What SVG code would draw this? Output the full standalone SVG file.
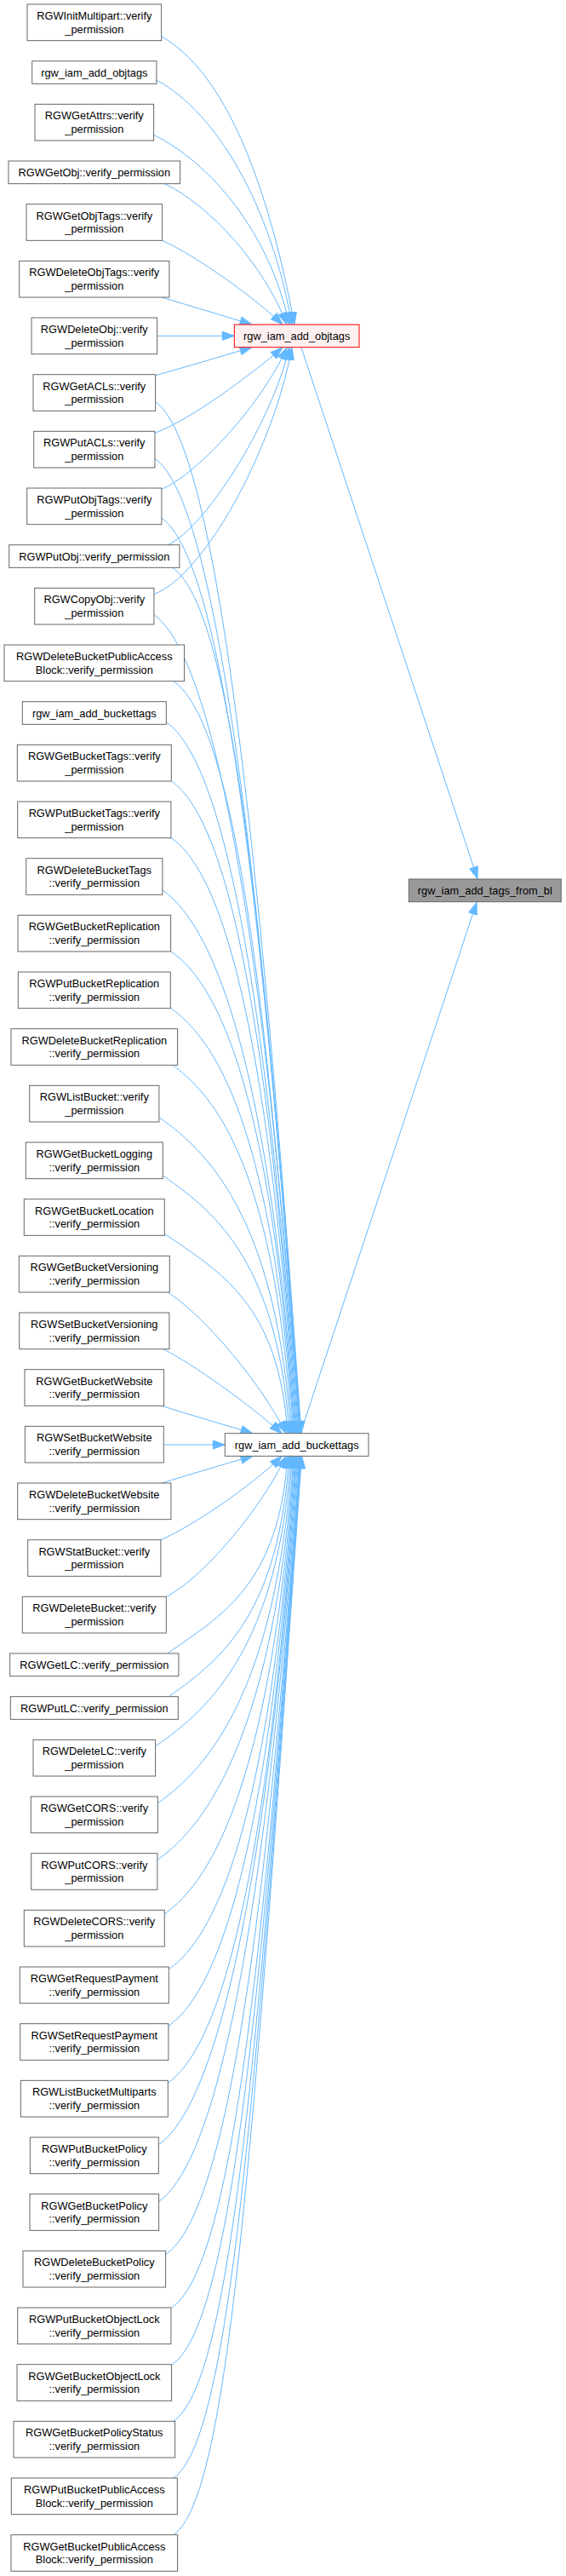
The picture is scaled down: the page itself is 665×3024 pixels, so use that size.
<svg xmlns="http://www.w3.org/2000/svg" width="665" height="3024" viewBox="0 0 665 3024">
<style>
.n rect{fill:#ffffff;stroke:#666666;stroke-width:1}
.cur rect{fill:#fff0f0;stroke:#ff0000}
.root rect{fill:#999999;stroke:#666666}
text{font-family:"Liberation Sans",Arial,sans-serif;font-size:12.8px;text-anchor:middle;fill:#000}
.e path{fill:none;stroke:#63b8ff;stroke-width:1;marker-end:url(#arr)}
</style>
<defs>
<marker id="arr" markerUnits="userSpaceOnUse" markerWidth="16" markerHeight="12" refX="14" refY="5" orient="auto" overflow="visible">
<path d="M0,0 L14,5 L0,10 z" fill="#63b8ff" stroke="#63b8ff" stroke-width="1"/>
</marker>
</defs>
<rect width="665" height="3024" fill="#ffffff"/>
<g class="e" id="edges">
<path d="M189.6,42.7 C264,85 314,212 346,381"/>
<path d="M183.9,94 C254.3,132 318,240 343,381"/>
<path d="M180.6,158.3 C245,190 316,270 340,381"/>
<path d="M193.3,215.7 C245,240 310,310 337,381"/>
<path d="M190.7,282.3 C230,300 300,350 332,381"/>
<path d="M190,349 C220,358 260,370 296,381"/>
<path d="M184.6,394.3 L275.3,394.3"/>
<path d="M182.6,440.7 C215,432 260,418 296,407.7"/>
<path d="M181.9,508.3 C222,494 295,440 332,408"/>
<path d="M189.9,574.3 C235,555 310,470 337,408"/>
<path d="M197.3,639.7 C240,620 318,500 340,408"/>
<path d="M180.9,697.7 C240,675 320,530 343,408"/>
<path d="M182.6,471.7 C247.7,516.7 298.9,895.6 354,1682.7"/>
<path d="M181.9,538.3 C247.3,583.3 301.4,938.8 353.5,1682.7"/>
<path d="M189.9,608.3 C255,653.3 304.1,984.3 353,1682.7"/>
<path d="M202.7,666.3 C267.7,712.3 306.3,1022.7 352.5,1682.7"/>
<path d="M180.9,721.7 C246,766.7 308.3,1058.1 352,1682.7"/>
<path d="M204,799.7 C269,846 310.9,1109.6 351,1682.7"/>
<path d="M195.3,847.7 C260.3,892.7 312,1140 350,1682.7"/>
<path d="M201.3,917 C266.3,961.7 314.1,1184.8 349,1682.7"/>
<path d="M200.9,983.3 C266,1028.3 316.2,1228.1 348,1682.7"/>
<path d="M190.9,1045 C256,1090 318,1268.2 347,1682.7"/>
<path d="M201,1117 C266,1161.7 320.2,1314.8 346,1682.7"/>
<path d="M200.3,1183.3 C265.3,1228.3 322.3,1358.1 345,1682.7"/>
<path d="M202.7,1250.3 C267.7,1296.7 323.9,1402.6 343.5,1682.7"/>
<path d="M186.9,1311.7 C252.3,1356.7 325.1,1441.6 342,1682.7"/>
<path d="M191.3,1380 C256.7,1425 326.2,1486 340,1682.7"/>
<path d="M193.3,1448.3 C258.7,1493.3 327.4,1530.3 338,1682.7"/>
<path d="M196.7,1517 C235,1540 305,1620 336,1682.7"/>
<path d="M191.7,1583.7 C225,1600 295,1650 331,1682.7"/>
<path d="M190,1650.3 C220,1660 262,1672 297,1682.7"/>
<path d="M192.3,1696 L264.3,1696"/>
<path d="M190,1741 C220,1732 262,1719 297,1709.3"/>
<path d="M189,1807.7 C225,1792 295,1745 331,1709.3"/>
<path d="M195.3,1874.3 C235,1855 305,1775 336,1709.3"/>
<path d="M196.7,1941 C261.7,1895.7 327.5,1859.7 338,1709.3"/>
<path d="M198.3,1991.7 C263.3,1946 327.2,1892.4 340,1709.3"/>
<path d="M182.6,2050 C248,2005 326.5,1931 342,1709.3"/>
<path d="M185.3,2116.7 C250.3,2071.7 325,1974.1 343.5,1709.3"/>
<path d="M184.9,2183.3 C250,2138.3 323.4,2017.4 345,1709.3"/>
<path d="M193.3,2246.7 C258.7,2201.7 321.5,2058.7 346,1709.3"/>
<path d="M198.3,2311.7 C263.7,2266.7 319.6,2100.9 347,1709.3"/>
<path d="M197.9,2378.3 C263,2333.3 317.6,2144.3 348,1709.3"/>
<path d="M197.3,2445 C262.7,2400 315.5,2187.5 349,1709.3"/>
<path d="M186.3,2517.7 C251.3,2472.7 313.2,2234.7 350,1709.3"/>
<path d="M186.6,2584.3 C252,2539.3 311.2,2278 351,1709.3"/>
<path d="M194.6,2646.7 C260,2601.7 309.4,2318.7 352,1709.3"/>
<path d="M201.7,2709 C266.7,2665 307,2360 352.5,1709.3"/>
<path d="M202.3,2775.7 C267.3,2731 304.5,2403 353,1709.3"/>
<path d="M204,2842.3 C269,2796.7 302,2445.4 353.5,1709.3"/>
<path d="M204,2909 C269,2863.3 299.5,2488.6 354,1709.3"/>
<path d="M204,2975.7 C269,2930 297,2532 354.5,1709.3"/>
<path d="M354,408 L561,1031.7"/>
<path d="M353.3,1681.7 C420,1480 500,1240 560,1059.3"/>
</g>
<g id="n1" class="n"><rect x="32" y="5" width="157.6" height="42.67"/><text x="110.8" y="23">RGWInitMultipart::verify</text><text x="110.8" y="38.6">_permission</text></g>
<g id="n2" class="n"><rect x="37.7" y="71.67" width="146.2" height="26.67"/><text x="110.8" y="89.6">rgw_iam_add_objtags</text></g>
<g id="n3" class="n"><rect x="41" y="122.33" width="139.6" height="42.67"/><text x="110.8" y="140.3">RGWGetAttrs::verify</text><text x="110.8" y="156">_permission</text></g>
<g id="n4" class="n"><rect x="10" y="189" width="201.6" height="26.67"/><text x="110.8" y="206.9">RGWGetObj::verify_permission</text></g>
<g id="n5" class="n"><rect x="31" y="239.67" width="159.6" height="42.67"/><text x="110.8" y="257.7">RGWGetObjTags::verify</text><text x="110.8" y="273.3">_permission</text></g>
<g id="n6" class="n"><rect x="22.7" y="306.33" width="176.2" height="42.67"/><text x="110.8" y="324.3">RGWDeleteObjTags::verify</text><text x="110.8" y="340">_permission</text></g>
<g id="n7" class="n"><rect x="37" y="373" width="147.6" height="42.67"/><text x="110.8" y="391">RGWDeleteObj::verify</text><text x="110.8" y="406.6">_permission</text></g>
<g id="n8" class="n"><rect x="39" y="439.67" width="143.6" height="42.67"/><text x="110.8" y="457.7">RGWGetACLs::verify</text><text x="110.8" y="473.3">_permission</text></g>
<g id="n9" class="n"><rect x="39.7" y="506.33" width="142.2" height="42.67"/><text x="110.8" y="524.3">RGWPutACLs::verify</text><text x="110.8" y="540">_permission</text></g>
<g id="n10" class="n"><rect x="31.7" y="573" width="158.2" height="42.67"/><text x="110.8" y="591">RGWPutObjTags::verify</text><text x="110.8" y="606.6">_permission</text></g>
<g id="n11" class="n"><rect x="10.7" y="639.67" width="200.2" height="26.67"/><text x="110.8" y="657.6">RGWPutObj::verify_permission</text></g>
<g id="n12" class="n"><rect x="40.7" y="690.33" width="140.2" height="42.67"/><text x="110.8" y="708.3">RGWCopyObj::verify</text><text x="110.8" y="724">_permission</text></g>
<g id="n13" class="n"><rect x="5" y="757" width="211.6" height="42.67"/><text x="110.8" y="775">RGWDeleteBucketPublicAccess</text><text x="110.8" y="790.6">Block::verify_permission</text></g>
<g id="n14" class="n"><rect x="26.3" y="823.67" width="169" height="26.67"/><text x="110.8" y="841.6">rgw_iam_add_buckettags</text></g>
<g id="n15" class="n"><rect x="20.3" y="874.33" width="181" height="42.67"/><text x="110.8" y="892.3">RGWGetBucketTags::verify</text><text x="110.8" y="908">_permission</text></g>
<g id="n16" class="n"><rect x="20.7" y="941" width="180.2" height="42.67"/><text x="110.8" y="959">RGWPutBucketTags::verify</text><text x="110.8" y="974.6">_permission</text></g>
<g id="n17" class="n"><rect x="30.7" y="1007.67" width="160.2" height="42.67"/><text x="110.8" y="1025.7">RGWDeleteBucketTags</text><text x="110.8" y="1041.3">::verify_permission</text></g>
<g id="n18" class="n"><rect x="21" y="1074.33" width="179.6" height="42.67"/><text x="110.8" y="1092.3">RGWGetBucketReplication</text><text x="110.8" y="1108">::verify_permission</text></g>
<g id="n19" class="n"><rect x="21.3" y="1141" width="179" height="42.67"/><text x="110.8" y="1159">RGWPutBucketReplication</text><text x="110.8" y="1174.6">::verify_permission</text></g>
<g id="n20" class="n"><rect x="13" y="1207.67" width="195.6" height="42.67"/><text x="110.8" y="1225.7">RGWDeleteBucketReplication</text><text x="110.8" y="1241.3">::verify_permission</text></g>
<g id="n21" class="n"><rect x="34.7" y="1274.33" width="152.2" height="42.67"/><text x="110.8" y="1292.3">RGWListBucket::verify</text><text x="110.8" y="1308">_permission</text></g>
<g id="n22" class="n"><rect x="30.3" y="1341" width="161" height="42.67"/><text x="110.8" y="1359">RGWGetBucketLogging</text><text x="110.8" y="1374.6">::verify_permission</text></g>
<g id="n23" class="n"><rect x="28.3" y="1407.67" width="165" height="42.67"/><text x="110.8" y="1425.7">RGWGetBucketLocation</text><text x="110.8" y="1441.3">::verify_permission</text></g>
<g id="n24" class="n"><rect x="22.3" y="1474.33" width="177" height="42.67"/><text x="110.8" y="1492.3">RGWGetBucketVersioning</text><text x="110.8" y="1508">::verify_permission</text></g>
<g id="n25" class="n"><rect x="22.7" y="1541" width="176.2" height="42.67"/><text x="110.8" y="1559">RGWSetBucketVersioning</text><text x="110.8" y="1574.6">::verify_permission</text></g>
<g id="n26" class="n"><rect x="29" y="1607.67" width="163.6" height="42.67"/><text x="110.8" y="1625.7">RGWGetBucketWebsite</text><text x="110.8" y="1641.3">::verify_permission</text></g>
<g id="n27" class="n"><rect x="29.3" y="1674.33" width="163" height="42.67"/><text x="110.8" y="1692.3">RGWSetBucketWebsite</text><text x="110.8" y="1708">::verify_permission</text></g>
<g id="n28" class="n"><rect x="20.7" y="1741" width="180.2" height="42.67"/><text x="110.8" y="1759">RGWDeleteBucketWebsite</text><text x="110.8" y="1774.6">::verify_permission</text></g>
<g id="n29" class="n"><rect x="32.7" y="1807.67" width="156.2" height="42.67"/><text x="110.8" y="1825.7">RGWStatBucket::verify</text><text x="110.8" y="1841.3">_permission</text></g>
<g id="n30" class="n"><rect x="26.3" y="1874.33" width="169" height="42.67"/><text x="110.8" y="1892.3">RGWDeleteBucket::verify</text><text x="110.8" y="1908">_permission</text></g>
<g id="n31" class="n"><rect x="11.7" y="1941" width="198.2" height="26.67"/><text x="110.8" y="1958.9">RGWGetLC::verify_permission</text></g>
<g id="n32" class="n"><rect x="12.3" y="1991.67" width="197" height="26.67"/><text x="110.8" y="2009.6">RGWPutLC::verify_permission</text></g>
<g id="n33" class="n"><rect x="39" y="2042.33" width="143.6" height="42.67"/><text x="110.8" y="2060.3">RGWDeleteLC::verify</text><text x="110.8" y="2076">_permission</text></g>
<g id="n34" class="n"><rect x="36.3" y="2109" width="149" height="42.67"/><text x="110.8" y="2127">RGWGetCORS::verify</text><text x="110.8" y="2142.6">_permission</text></g>
<g id="n35" class="n"><rect x="36.7" y="2175.67" width="148.2" height="42.67"/><text x="110.8" y="2193.7">RGWPutCORS::verify</text><text x="110.8" y="2209.3">_permission</text></g>
<g id="n36" class="n"><rect x="28.3" y="2242.33" width="165" height="42.67"/><text x="110.8" y="2260.3">RGWDeleteCORS::verify</text><text x="110.8" y="2276">_permission</text></g>
<g id="n37" class="n"><rect x="23.3" y="2309" width="175" height="42.67"/><text x="110.8" y="2327">RGWGetRequestPayment</text><text x="110.8" y="2342.6">::verify_permission</text></g>
<g id="n38" class="n"><rect x="23.7" y="2375.67" width="174.2" height="42.67"/><text x="110.8" y="2393.7">RGWSetRequestPayment</text><text x="110.8" y="2409.3">::verify_permission</text></g>
<g id="n39" class="n"><rect x="24.3" y="2442.33" width="173" height="42.67"/><text x="110.8" y="2460.3">RGWListBucketMultiparts</text><text x="110.8" y="2476">::verify_permission</text></g>
<g id="n40" class="n"><rect x="35.3" y="2509" width="151" height="42.67"/><text x="110.8" y="2527">RGWPutBucketPolicy</text><text x="110.8" y="2542.6">::verify_permission</text></g>
<g id="n41" class="n"><rect x="35" y="2575.67" width="151.6" height="42.67"/><text x="110.8" y="2593.7">RGWGetBucketPolicy</text><text x="110.8" y="2609.3">::verify_permission</text></g>
<g id="n42" class="n"><rect x="27" y="2642.33" width="167.6" height="42.67"/><text x="110.8" y="2660.3">RGWDeleteBucketPolicy</text><text x="110.8" y="2676">::verify_permission</text></g>
<g id="n43" class="n"><rect x="20.7" y="2709" width="180.2" height="42.67"/><text x="110.8" y="2727">RGWPutBucketObjectLock</text><text x="110.8" y="2742.6">::verify_permission</text></g>
<g id="n44" class="n"><rect x="20" y="2775.67" width="181.6" height="42.67"/><text x="110.8" y="2793.7">RGWGetBucketObjectLock</text><text x="110.8" y="2809.3">::verify_permission</text></g>
<g id="n45" class="n"><rect x="16" y="2842.33" width="189.6" height="42.67"/><text x="110.8" y="2860.3">RGWGetBucketPolicyStatus</text><text x="110.8" y="2876">::verify_permission</text></g>
<g id="n46" class="n"><rect x="13.3" y="2909" width="195" height="42.67"/><text x="110.8" y="2927">RGWPutBucketPublicAccess</text><text x="110.8" y="2942.6">Block::verify_permission</text></g>
<g id="n47" class="n"><rect x="13" y="2975.67" width="195.6" height="42.67"/><text x="110.8" y="2993.7">RGWGetBucketPublicAccess</text><text x="110.8" y="3009.3">Block::verify_permission</text></g>
<g id="m1" class="n cur"><rect x="275.3" y="381" width="146.7" height="26.67"/><text x="348.7" y="398.9">rgw_iam_add_objtags</text></g>
<g id="m2" class="n"><rect x="264.3" y="1682.67" width="168.7" height="26.67"/><text x="348.7" y="1700.6">rgw_iam_add_buckettags</text></g>
<g id="r" class="n root"><rect x="480.3" y="1032" width="179" height="26.67"/><text x="569.8" y="1049.9">rgw_iam_add_tags_from_bl</text></g>
</svg>
